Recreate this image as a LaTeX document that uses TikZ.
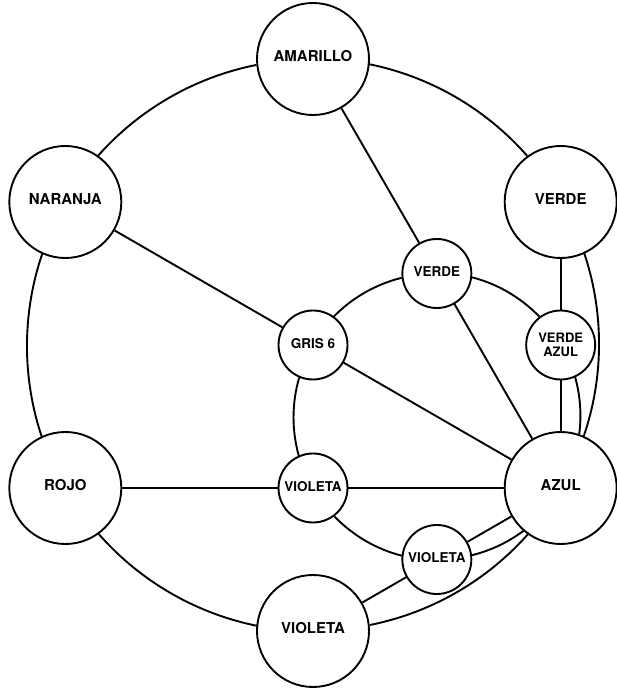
\documentclass[tikz,border=0pt]{standalone}
\usepackage{fontspec}
\setmainfont{TeX Gyre Heros}
\begin{document}
\begin{tikzpicture}[x=1pt,y=1pt,line width=1.9pt,
  bignode/.style={circle,draw,fill=white,minimum size=112pt,inner sep=0pt,
    font=\fontsize{15}{17}\selectfont\bfseries,text height=10.8pt,text depth=6pt},
  smallnode/.style={circle,draw,fill=white,minimum size=69pt,inner sep=0pt,
    font=\fontsize{13.5}{15}\selectfont\bfseries,text height=9.7pt,text depth=3pt},
  twonode/.style={circle,draw,fill=white,minimum size=69pt,inner sep=0pt,align=center,
    font=\fontsize{13}{14.5}\selectfont\bfseries},
  link/.style={line width=1.9pt}]
\useasboundingbox (0,0) rectangle (617,688);
% outer ring
\node[bignode] (amarillo) at (313,629) {AMARILLO};
\node[bignode] (verde) at (560.68,486) {VERDE};
\node[bignode] (azul) at (560.68,200) {AZUL};
\node[bignode] (violetaB) at (313,57) {VIOLETA};
\node[bignode] (rojo) at (65.32,200) {ROJO};
\node[bignode] (naranja) at (65.32,486) {NARANJA};
% inner ring
\node[smallnode] (gris) at (313,343) {GRIS 6};
\node[smallnode] (verdeI) at (436.84,414.5) {VERDE};
\node[twonode] (verdeazul) at (560.68,343) {VERDE\\AZUL};
\node[smallnode] (violetaS) at (436.84,128.5) {VIOLETA};
\node[smallnode] (violetaM) at (313,200) {VIOLETA};
% outer arcs (radius 286 about the centre of GRIS 6)
\draw[link] (verde.126) arc[start angle=41.24,end angle=78.76,radius=286];
\draw[link] (amarillo.186) arc[start angle=101.24,end angle=138.76,radius=286];
\draw[link] (naranja.246) arc[start angle=161.24,end angle=198.76,radius=286];
\draw[link] (rojo.306) arc[start angle=221.24,end angle=258.76,radius=286];
\draw[link] (violetaB.6) arc[start angle=281.24,end angle=318.76,radius=286];
\draw[link] (azul.66) arc[start angle=341.24,end angle=378.76,radius=286];
% inner arcs (radius 143)
\draw[link] (azul.71) arc[start angle=-7.42,end angle=16.14,radius=143];
\draw[link] (verdeazul.127) arc[start angle=43.86,end angle=76.14,radius=143];
\draw[link] (verdeI.187) arc[start angle=103.86,end angle=136.14,radius=143];
\draw[link] (gris.247) arc[start angle=163.86,end angle=196.14,radius=143];
\draw[link] (violetaM.307) arc[start angle=223.86,end angle=256.14,radius=143];
\draw[link] (violetaS.7) arc[start angle=283.86,end angle=307.42,radius=143];
% straight connectors
\draw[link] (naranja) -- (gris);
\draw[link] (amarillo) -- (verdeI);
\draw[link] (gris) -- (azul);
\draw[link] (verdeI) -- (azul);
\draw[link] (verde) -- (verdeazul);
\draw[link] (verdeazul) -- (azul);
\draw[link] (rojo) -- (violetaM);
\draw[link] (violetaM) -- (azul);
\draw[link] (violetaB) -- (violetaS);
\draw[link] (violetaS) -- (azul);
\end{tikzpicture}
\end{document}
